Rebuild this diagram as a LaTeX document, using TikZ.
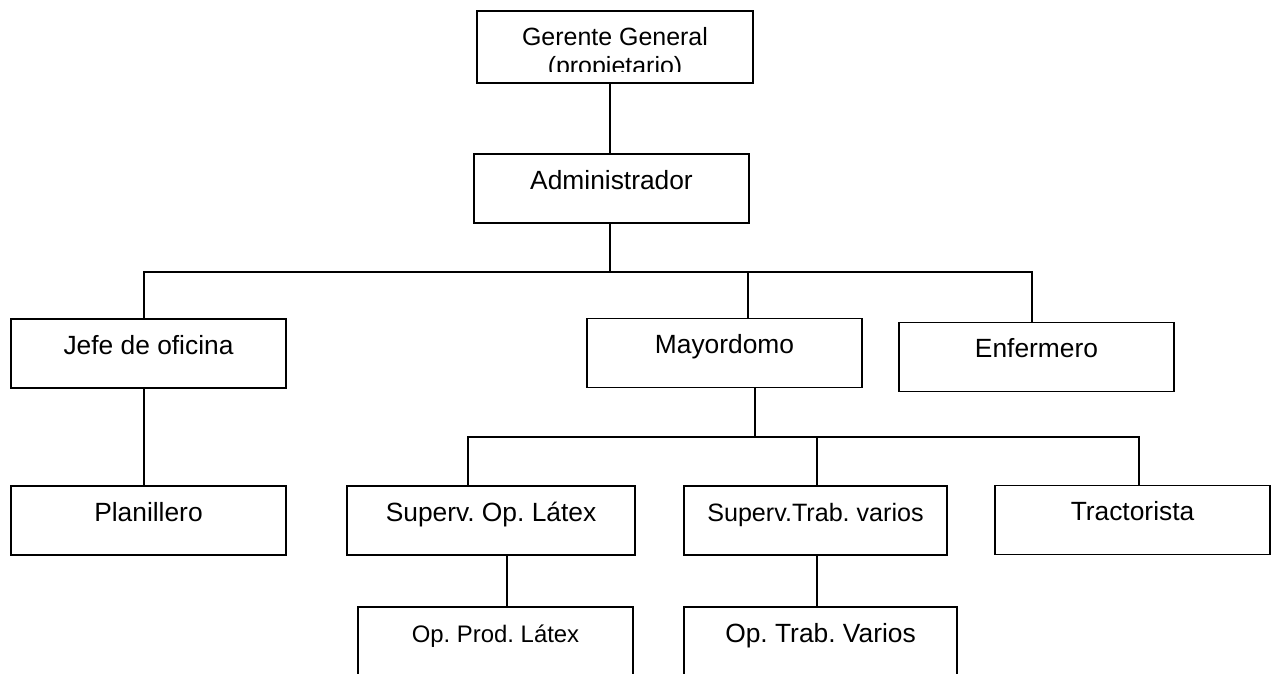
\documentclass[tikz,border=0pt]{standalone}
\usepackage{fontspec}
\setmainfont{Liberation Sans}
\frenchspacing
\begin{document}
\begin{tikzpicture}[x=0.02cm,y=-0.02cm,
  caja/.style={draw, line width=1.1pt, inner sep=0pt, minimum height=1.38cm,
    text height=0.7cm, text depth=0.68cm, font=\fontsize{15}{18}\selectfont},
  linea/.style={line width=0.75pt}]
\path[use as bounding box] (0,0) rectangle (1271,673);
\clip (0,0) rectangle (1271,673);
% cajas
\node[caja, minimum width=5.52cm, minimum height=1.44cm, text height=0.68cm, text depth=0.76cm,
  font=\fontsize{14.2}{17}\selectfont] (ger) at (615,47) {Gerente General};
\begin{scope}
\clip (477,11) rectangle (753,71);
\node[anchor=base, inner sep=0pt, font=\fontsize{14.2}{17}\selectfont] (prop) at (615,74) {(propietario)};
\end{scope}
\node[caja, minimum width=5.5cm] (adm) at (611.5,188.5) {Administrador};
\node[caja, minimum width=5.5cm] (jefe) at (148.5,353.5) {Jefe de oficina};
\node[caja, minimum width=5.5cm] (may) at (724.5,353) {Mayordomo};
\node[caja, minimum width=5.5cm] (enf) at (1036.5,357) {Enfermero};
\node[caja, minimum width=5.5cm] (plan) at (148.5,520.5) {Planillero};
\node[caja, minimum width=5.76cm] (sol) at (491,520.5) {Superv. Op. Látex};
\node[caja, minimum width=5.26cm, font=\fontsize{14.3}{17}\selectfont] (stv) at (815.5,520.5) {Superv.Trab. varios};
\node[caja, minimum width=5.5cm] (trac) at (1132.5,520) {Tractorista};
\node[caja, minimum width=5.5cm, font=\fontsize{13.6}{16}\selectfont] (opl) at (495.5,641.5) {Op. Prod. Látex};
\node[caja, minimum width=5.46cm] (otv) at (820.5,641.5) {Op. Trab. Varios};
% lineas
\coordinate (c0) at (610,272);
\coordinate (cj) at (144,272);
\coordinate (cm) at (748,272);
\coordinate (ce) at (1032,272);
\draw[linea] (c0 |- ger.south) -- (c0 |- adm.north);
\draw[linea] (c0 |- adm.south) -- (c0);
\draw[linea] (cj |- jefe.north) -- (cj) -- (ce) -- (ce |- enf.north);
\draw[linea] (cm) -- (cm |- may.north);
\draw[linea] (cj |- jefe.south) -- (cj |- plan.north);
\coordinate (c1) at (755,437);
\coordinate (cs) at (468,437);
\coordinate (cv) at (817,437);
\coordinate (ct) at (1139,437);
\coordinate (cl) at (507,580);
\draw[linea] (c1 |- may.south) -- (c1);
\draw[linea] (cs |- sol.north) -- (cs) -- (ct) -- (ct |- trac.north);
\draw[linea] (cv) -- (cv |- stv.north);
\draw[linea] (cv |- stv.south) -- (cv |- otv.north);
\draw[linea] (cl |- sol.south) -- (cl |- opl.north);
\end{tikzpicture}
\end{document}
